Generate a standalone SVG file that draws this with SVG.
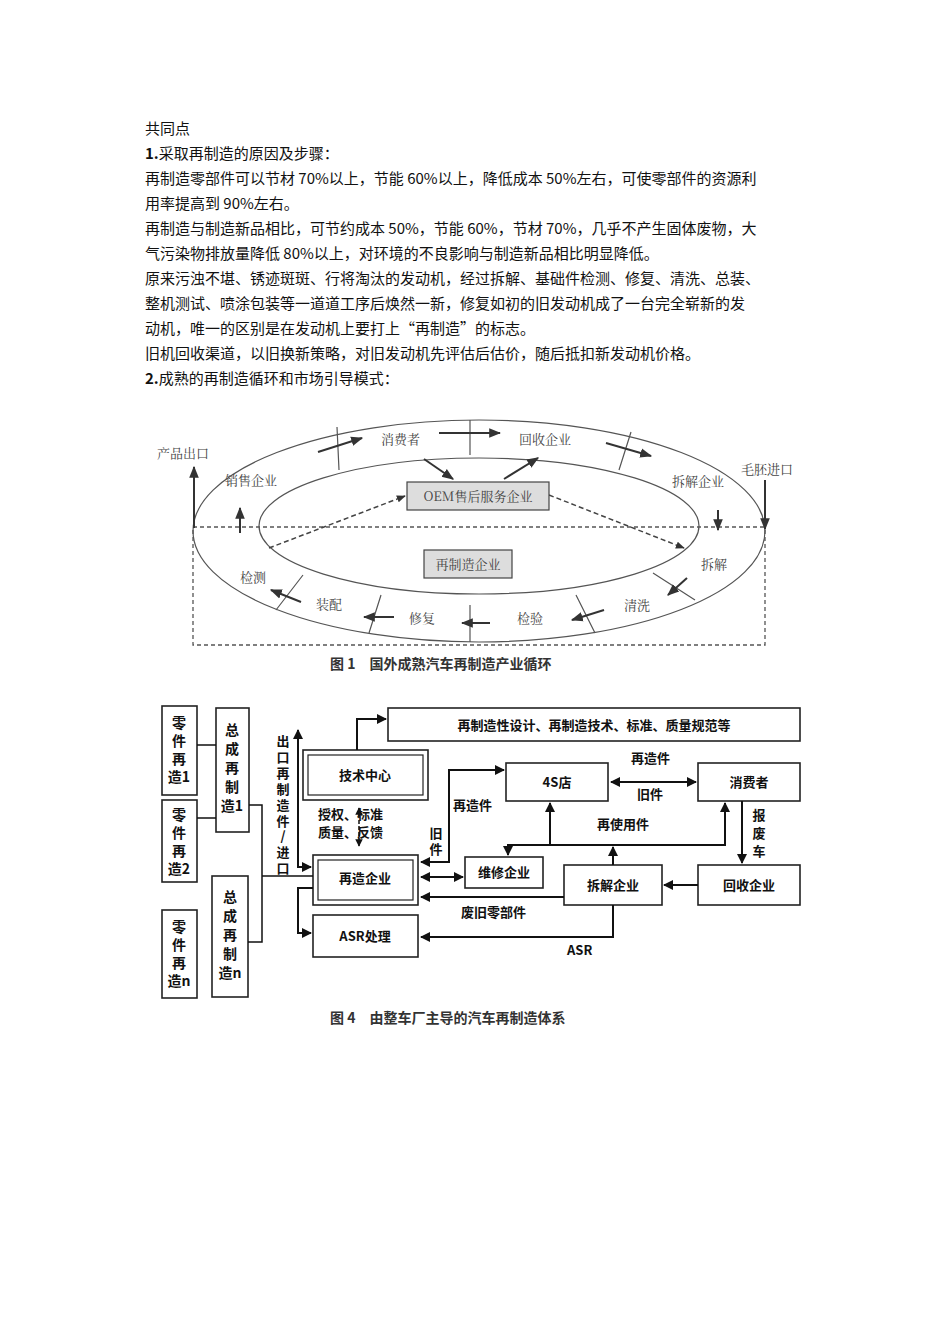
<svg xmlns="http://www.w3.org/2000/svg" width="950" height="1344" viewBox="0 0 950 1344">
<defs>
<marker id="a" viewBox="0 0 10 10" refX="9" refY="5" markerWidth="6" markerHeight="6" orient="auto"><path d="M0,1 L10,5 L0,9 z" fill="#333"/></marker>
<marker id="b" viewBox="0 0 10 10" refX="9" refY="5" markerWidth="5" markerHeight="5" orient="auto"><path d="M0,0 L10,5 L0,10 z" fill="#111"/></marker>
<marker id="bs" viewBox="0 0 10 10" refX="1" refY="5" markerWidth="5" markerHeight="5" orient="auto"><path d="M10,0 L0,5 L10,10 z" fill="#111"/></marker>
</defs>
<style>
.p{font-family:"Noto Sans CJK SC","Liberation Sans",sans-serif;font-size:15px;fill:#111}
.t{font-family:"Noto Serif CJK SC","Noto Sans CJK SC",serif;font-size:13px;fill:#444}
.f{font-family:"Noto Sans CJK SC",sans-serif;font-size:13px;fill:#111;font-weight:bold}
.v{font-family:"Noto Sans CJK SC",sans-serif;font-size:14px;fill:#111;font-weight:bold;text-anchor:middle}
.l{fill:none;stroke:#555;stroke-width:1.2}
.d{fill:none;stroke:#555;stroke-width:1.3;stroke-dasharray:4 3}
.ar{stroke:#333;stroke-width:2;marker-end:url(#a);fill:none}
.da{stroke:#444;stroke-width:1.5;stroke-dasharray:5 3;marker-end:url(#a);fill:none}
.bx{fill:#fff;stroke:#222;stroke-width:1.6}
.k{stroke:#111;stroke-width:2;fill:none;marker-end:url(#b)}
.c{stroke:#111;stroke-width:1.5;fill:none}
.cap{font-family:"Noto Sans CJK SC",sans-serif;font-size:14px;fill:#333;font-weight:bold}
</style>
<g id="text">
<text class="p" x="145" y="134">共同点</text>
<text class="p" x="145" y="159"><tspan font-weight="bold">1.</tspan>采取再制造的原因及步骤：</text>
<text class="p" x="145" y="184">再制造零部件可以节材 70%以上，节能 60%以上，降低成本 50%左右，可使零部件的资源利</text>
<text class="p" x="145" y="209">用率提高到 90%左右。</text>
<text class="p" x="145" y="234">再制造与制造新品相比，可节约成本 50%，节能 60%，节材 70%，几乎不产生固体废物，大</text>
<text class="p" x="145" y="259">气污染物排放量降低 80%以上，对环境的不良影响与制造新品相比明显降低。</text>
<text class="p" x="145" y="284">原来污浊不堪、锈迹斑斑、行将淘汰的发动机，经过拆解、基础件检测、修复、清洗、总装、</text>
<text class="p" x="145" y="309">整机测试、喷涂包装等一道道工序后焕然一新，修复如初的旧发动机成了一台完全崭新的发</text>
<text class="p" x="145" y="334">动机，唯一的区别是在发动机上要打上“再制造”的标志。</text>
<text class="p" x="145" y="359">旧机回收渠道，以旧换新策略，对旧发动机先评估后估价，随后抵扣新发动机价格。</text>
<text class="p" x="145" y="384"><tspan font-weight="bold">2.</tspan>成熟的再制造循环和市场引导模式：</text>
</g>
<g id="fig1">
<ellipse class="l" cx="479" cy="531" rx="286" ry="111"/>
<ellipse class="l" cx="479" cy="526" rx="220" ry="68"/>
<path class="d" d="M193,527 H765 M193,530 V645 H765 V530"/>
<path class="l" d="M337,427 L339,470 M470,420 V455 M631,432 L619,470 M653,573 L695,600 M576,595 L595,633 M470,605 V642 M381,595 L369,633 M303,575 L276,610"/>
<line class="ar" x1="318" y1="452" x2="362" y2="438"/>
<line class="ar" x1="439" y1="433" x2="500" y2="433"/>
<line class="ar" x1="606" y1="443" x2="651" y2="456"/>
<line class="ar" x1="424" y1="459" x2="453" y2="479"/>
<line class="ar" x1="504" y1="479" x2="538" y2="458"/>
<line class="ar" x1="240" y1="533" x2="240" y2="508"/>
<line class="ar" x1="194" y1="528" x2="194" y2="467"/>
<line class="ar" x1="718" y1="510" x2="718" y2="530"/>
<line class="ar" x1="765" y1="480" x2="765" y2="529"/>
<line class="da" x1="269" y1="548" x2="405" y2="496"/>
<line class="da" x1="549" y1="495" x2="684" y2="548"/>
<line class="ar" x1="687" y1="578" x2="668" y2="595"/>
<line class="ar" x1="604" y1="610" x2="572" y2="620"/>
<line class="ar" x1="490" y1="623" x2="462" y2="623"/>
<line class="ar" x1="394" y1="617" x2="364" y2="617"/>
<line class="ar" x1="301" y1="602" x2="271" y2="590"/>
<rect x="407" y="482" width="142" height="28" fill="#ddd" stroke="#444" stroke-width="1.2"/>
<text class="t" x="478" y="501" text-anchor="middle" fill="#222">OEM售后服务企业</text>
<rect x="424" y="550" width="88" height="28" fill="#ddd" stroke="#444" stroke-width="1.2"/>
<text class="t" x="468" y="569" text-anchor="middle" fill="#222">再制造企业</text>
<text class="t" x="381" y="444">消费者</text>
<text class="t" x="519" y="444">回收企业</text>
<text class="t" x="225" y="485">销售企业</text>
<text class="t" x="672" y="486">拆解企业</text>
<text class="t" x="157" y="458">产品出口</text>
<text class="t" x="741" y="474">毛胚进口</text>
<text class="t" x="701" y="569">拆解</text>
<text class="t" x="624" y="610">清洗</text>
<text class="t" x="517" y="623">检验</text>
<text class="t" x="409" y="623">修复</text>
<text class="t" x="316" y="609">装配</text>
<text class="t" x="240" y="582">检测</text>
<text class="cap" x="330" y="669">图 1　国外成熟汽车再制造产业循环</text>
</g>
<g id="fig4-nodes">
<g id="n1"><rect class="bx" x="162" y="706" width="35" height="89"/>
<text class="v" x="179"><tspan x="179" y="728">零</tspan><tspan x="179" y="746">件</tspan><tspan x="179" y="764">再</tspan><tspan x="179" y="782">造1</tspan></text></g>
<g id="n2"><rect class="bx" x="162" y="800" width="35" height="82"/>
<text class="v" x="179"><tspan x="179" y="820">零</tspan><tspan x="179" y="838">件</tspan><tspan x="179" y="856">再</tspan><tspan x="179" y="874">造2</tspan></text></g>
<g id="n3"><rect class="bx" x="162" y="910" width="35" height="88"/>
<text class="v" x="179"><tspan x="179" y="932">零</tspan><tspan x="179" y="950">件</tspan><tspan x="179" y="968">再</tspan><tspan x="179" y="986">造n</tspan></text></g>
<g id="n4"><rect class="bx" x="216" y="708" width="33" height="124"/>
<text class="v" x="232"><tspan x="232" y="735">总</tspan><tspan x="232" y="754">成</tspan><tspan x="232" y="773">再</tspan><tspan x="232" y="792">制</tspan><tspan x="232" y="811">造1</tspan></text></g>
<g id="n5"><rect class="bx" x="212" y="876" width="36" height="121"/>
<text class="v" x="230"><tspan x="230" y="902">总</tspan><tspan x="230" y="921">成</tspan><tspan x="230" y="940">再</tspan><tspan x="230" y="959">制</tspan><tspan x="230" y="978">造n</tspan></text></g>
<g id="n6"><rect class="bx" x="303" y="750" width="125" height="50"/><rect x="308" y="755" width="115" height="40" fill="none" stroke="#222" stroke-width="1.2"/>
<text class="f" x="365" y="780" text-anchor="middle">技术中心</text></g>
<g id="n7"><rect class="bx" x="313" y="855" width="105" height="50"/><rect x="318" y="860" width="95" height="40" fill="none" stroke="#222" stroke-width="1.2"/>
<text class="f" x="365" y="883" text-anchor="middle">再造企业</text></g>
<g id="n8"><rect class="bx" x="313" y="915" width="105" height="42"/>
<text class="f" x="365" y="941" text-anchor="middle">ASR处理</text></g>
<g id="n9"><rect class="bx" x="388" y="708" width="412" height="33"/>
<text class="f" x="594" y="730" text-anchor="middle">再制造性设计、再制造技术、标准、质量规范等</text></g>
<g id="n10"><rect class="bx" x="506" y="763" width="102" height="38"/>
<text class="f" x="557" y="787" text-anchor="middle">4S店</text></g>
<g id="n11"><rect class="bx" x="698" y="763" width="102" height="38"/>
<text class="f" x="749" y="787" text-anchor="middle">消费者</text></g>
<g id="n12"><rect class="bx" x="465" y="857" width="78" height="31"/>
<text class="f" x="504" y="877" text-anchor="middle">维修企业</text></g>
<g id="n13"><rect class="bx" x="564" y="865" width="98" height="40"/>
<text class="f" x="613" y="890" text-anchor="middle">拆解企业</text></g>
<g id="n14"><rect class="bx" x="698" y="865" width="102" height="40"/>
<text class="f" x="749" y="890" text-anchor="middle">回收企业</text></g>
</g>
<g id="fig4-connectors">
<path class="c" d="M197,745 H216 M197,818 H216 M249,805 H262 V942 H248 M262,876 H313"/>
<path class="k" d="M357,750 V719 H386"/>
<path class="k" d="M298,867 V730"/>
<path class="k" d="M298,862 V867 H311"/>
<path class="k" d="M313,888 H298 V933 H311"/>
<path class="c" d="M359,808 V846" stroke-dasharray="4 2" marker-end="url(#b)" marker-start="url(#bs)"/>
<path class="k" d="M421,862 H449 V770 H504" marker-start="url(#bs)"/>
<path class="k" d="M421,877 H463" marker-start="url(#bs)"/>
<path class="k" d="M611,782 H696" marker-start="url(#bs)"/>
<path class="k" d="M742,801 V863"/>
<path class="k" d="M698,885 H664"/>
<path class="k" d="M564,897 H421"/>
<path class="k" d="M613,865 V847"/>
<path class="k" d="M550,845 H725 V803"/>
<path class="k" d="M550,845 H508 V855"/>
<path class="k" d="M550,845 V803"/>
<path class="k" d="M613,905 V937 H421"/>
<text class="f" x="631" y="763">再造件</text>
<text class="f" x="637" y="799">旧件</text>
<text class="f" x="453" y="810">再造件</text>
<text class="f" text-anchor="middle"><tspan x="436" y="838">旧</tspan><tspan x="436" y="854">件</tspan></text>
<text class="f" x="318" y="819">授权、标准</text>
<text class="f" x="318" y="837">质量、反馈</text>
<text class="f" x="597" y="829">再使用件</text>
<text class="f" text-anchor="middle"><tspan x="759" y="820">报</tspan><tspan x="759" y="838">废</tspan><tspan x="759" y="856">车</tspan></text>
<text class="f" x="461" y="917">废旧零部件</text>
<text class="f" x="567" y="955">ASR</text>
<text class="f" text-anchor="middle" font-size="12"><tspan x="283" y="746">出</tspan><tspan x="283" y="762">口</tspan><tspan x="283" y="778">再</tspan><tspan x="283" y="794">制</tspan><tspan x="283" y="810">造</tspan><tspan x="283" y="826">件</tspan><tspan x="283" y="841">/</tspan><tspan x="283" y="857">进</tspan><tspan x="283" y="873">口</tspan></text>
<text class="cap" x="330" y="1023">图 4　由整车厂主导的汽车再制造体系</text>
</g>
</svg>
